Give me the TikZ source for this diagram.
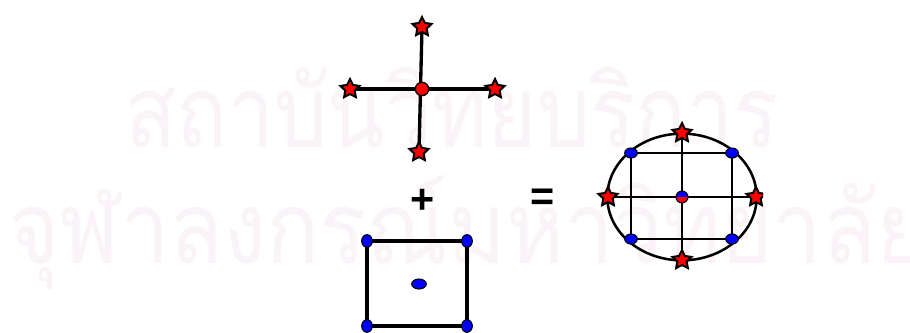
\documentclass[tikz,border=0pt]{standalone}
\usepackage{fontspec}
\newfontfamily\thaifont[Script=Thai]{Loma}
\newfontfamily\signfont{Liberation Sans}
\usetikzlibrary{shapes.geometric,backgrounds}
\definecolor{wmark}{RGB}{250,244,249}
\definecolor{dotblue}{RGB}{0,0,255}
\definecolor{dotred}{RGB}{255,0,0}
\tikzset{
  redstar/.style={star, star points=5, star point ratio=2.0, minimum size=15pt, inner sep=0pt,
    fill=dotred, draw=black, line width=1.5pt},
  reddot/.style={ellipse, minimum width=10pt, minimum height=10pt, inner sep=0pt,
    fill=dotred, draw=black, line width=1pt},
  bluedot/.style={ellipse, minimum width=8pt, minimum height=9.5pt, inner sep=0pt,
    fill=dotblue, draw=black, line width=0.8pt},
  bluedotw/.style={ellipse, minimum width=9.5pt, minimum height=7.5pt, inner sep=0pt,
    fill=dotblue, draw=black, line width=0.8pt},
  thickline/.style={line width=2.5pt, black},
  midline/.style={line width=1.9pt, black},
  sign/.style={font=\signfont\bfseries\fontsize{31}{31}\selectfont, inner sep=0pt},
  watermark/.style={font=\thaifont\fontsize{75}{75}\selectfont, text=wmark, inner sep=0pt, anchor=base west},
}
\begin{document}
\begin{tikzpicture}[x=0.75pt,y=-0.75pt]
\useasboundingbox (0,0) rectangle (910,332);
% nodes
\node[redstar] (ct) at (422,27) {};
\node[redstar] (cl) at (350,89) {};
\node[redstar] (cr) at (495,89) {};
\node[redstar] (cb) at (419,152) {};
\node[reddot] (cc) at (422,89) {};
\node[sign] (plus) at (423,201) {+};
\node[sign] (eq) at (543,200) {=};
\node[bluedot] (s1) at (367,241) {};
\node[bluedot] (s2) at (467,241) {};
\node[bluedot] (s3) at (367,326) {};
\node[bluedot] (s4) at (467,326) {};
\node[bluedotw, minimum width=11pt] (sc) at (419,284) {};
\node[draw=black, line width=1.9pt, ellipse, minimum width=112pt, minimum height=95pt, inner sep=0pt] (ell) at (682,197) {};
\node[bluedotw] (e1) at (631,153) {};
\node[bluedotw] (e2) at (732,153) {};
\node[bluedotw] (e3) at (631,239) {};
\node[bluedotw] (e4) at (732,239) {};
\node[redstar] (et) at (682,133) {};
\node[redstar] (el) at (608,197) {};
\node[redstar] (eb) at (682,260) {};
\begin{scope}
\clip (740,180) rectangle (763,214);
\node[redstar] (er) at (756,197) {};
\end{scope}
\node[bluedot, minimum width=9pt, minimum height=9pt] (ec) at (682,197) {};
\begin{scope}
\clip (670,197) rectangle (694,210);
\fill[dotred] (ec.center) ellipse (4.1pt and 4.1pt);
\end{scope}
\begin{scope}[on background layer]
\fill[white] (0,0) rectangle (910,332);
\node[watermark] (wm1) at (125,147) {\scalebox{0.84}[1]{สถาบันวิทยบริการ}};
\node[watermark] (wm2) at (8,263) {\scalebox{0.88}[1]{จุฬาลงกรณ์มหาวิทยาลัย}};
\draw[thickline] (ct.center) -- (cb.center);
\draw[thickline] (cl.center) -- (cr.center);
\draw[thickline] (s1.center) -- (s2.center) -- (s4.center) -- (s3.center) -- cycle;
\draw[midline] (e1.center) -- (e2.center) -- (e4.center) -- (e3.center) -- cycle;
\draw[midline] (et.center) -- (eb.center);
\draw[midline] (el.center) -- (er.center);
\end{scope}
\end{tikzpicture}
\end{document}
